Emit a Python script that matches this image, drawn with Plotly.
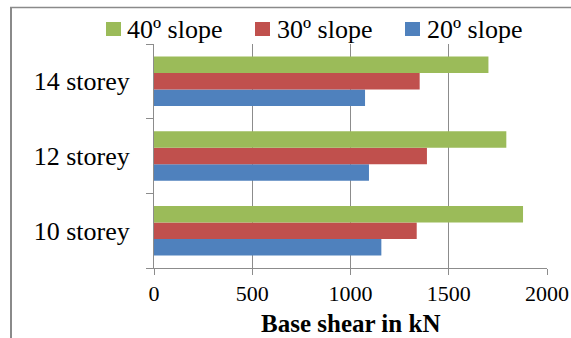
import plotly.graph_objects as go

# Base shear per building height and slope angle
storeys = ["10 storey", "12 storey", "14 storey"]
shear_20 = [1157, 1094, 1074]
shear_30 = [1337, 1389, 1352]
shear_40 = [1878, 1793, 1702]

series_names = ["20º slope", "30º slope", "40º slope"]
series_values = [shear_20, shear_30, shear_40]
series_colors = ["#4F81BD", "#C0504D", "#9BBB59"]

x_ticks = [0, 500, 1000, 1500, 2000]

W, H = 571, 338
ML, MR, MT, MB = 154, 24, 44, 70
PW = W - ML - MR
PH = H - MT - MB

FONT = "Liberation Serif, Times New Roman, serif"
GRID = "#8C8C8C"

fig = go.Figure()
for name, vals, col in zip(series_names, series_values, series_colors):
    fig.add_trace(go.Bar(
        y=storeys, x=vals, name=name, orientation="h",
        marker=dict(color=col, line=dict(width=0)),
        showlegend=False,
    ))

fig.update_layout(
    width=W, height=H,
    margin=dict(l=ML, r=MR, t=MT, b=MB, pad=0),
    paper_bgcolor="white", plot_bgcolor="white",
    barmode="group", bargap=0.337, bargroupgap=0,
    font=dict(family=FONT, color="black"),
)

fig.update_xaxes(
    range=[0, 2000], tickvals=x_ticks, ticktext=[str(v) for v in x_ticks],
    showgrid=True, gridcolor=GRID, gridwidth=1,
    showline=True, linecolor=GRID, linewidth=1,
    ticks="outside", ticklen=6, tickcolor=GRID,
    tickfont=dict(size=22, family=FONT, color="black"),
    zeroline=False, automargin=False,
)
fig.update_yaxes(
    type="category", categoryorder="array", categoryarray=storeys,
    range=[-0.5, 2.5],
    showgrid=False, showline=True, linecolor=GRID, linewidth=1,
    ticks="outside", ticklen=7, tickcolor=GRID, tickson="boundaries",
    ticklabelstandoff=18,
    tickfont=dict(size=26, family=FONT, color="black"),
    zeroline=False, automargin=False,
)

# x-axis title
fig.add_annotation(
    text="<b>Base shear in kN</b>", xref="paper", yref="paper",
    x=0.5, y=0, yshift=-(323 - (MT + PH)), xanchor="center", yanchor="middle",
    showarrow=False, font=dict(size=25, family=FONT, color="black"),
)

# legend entries, top row
legend_items = [
    ("40º slope", "#9BBB59", 106, 125),
    ("30º slope", "#C0504D", 255, 275),
    ("20º slope", "#4F81BD", 405, 425),
]
for label, col, sq_x, txt_x in legend_items:
    fig.add_shape(
        type="rect", xref="paper", yref="paper",
        xsizemode="pixel", ysizemode="pixel",
        xanchor=0, yanchor=1,
        x0=sq_x - ML, x1=sq_x + 15 - ML,
        y0=MT - 36, y1=MT - 22,
        fillcolor=col, line=dict(width=0),
    )
    fig.add_annotation(
        text=label, xref="paper", yref="paper",
        x=0, y=1, xshift=txt_x - ML, yshift=MT - 29,
        xanchor="left", yanchor="middle", showarrow=False,
        font=dict(size=26, family=FONT, color="black"),
    )

# chart frame (left and top edges)
def px_x(p):
    return (p - ML) / PW

def px_y(p):
    return (MT + PH - p) / PH

fig.add_shape(type="line", xref="paper", yref="paper",
              x0=px_x(11), x1=px_x(11), y0=px_y(7.5), y1=px_y(345),
              line=dict(color="#8A8A8A", width=2))
fig.add_shape(type="line", xref="paper", yref="paper",
              x0=px_x(10), x1=px_x(580), y0=px_y(7.5), y1=px_y(7.5),
              line=dict(color="#8A8A8A", width=1.5))

fig.write_html("out.html")
